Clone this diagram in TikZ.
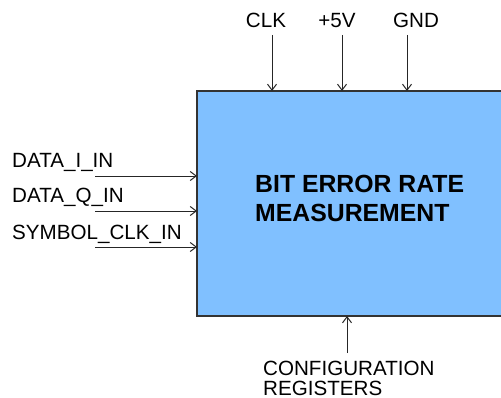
\documentclass[tikz,border=0pt]{standalone}
\usepackage{fontspec}
\setmainfont{Liberation Sans}
\usetikzlibrary{arrows.meta}
\definecolor{boxblue}{HTML}{80C0FF}
\tikzset{
  lbl/.style={inner sep=0pt, font=\fontsize{20.6}{24}\selectfont},
  ttl/.style={inner sep=0pt, font=\fontsize{24.8}{29}\selectfont\bfseries},
  arr/.style={draw=black!85, line width=0.9pt, -{Straight Barb[length=6pt,width=9pt,line width=1pt]}},
}
\begin{document}
\begin{tikzpicture}[x=1pt,y=-1pt]
\useasboundingbox (0,0) rectangle (501,398);
% block (runs past the right edge)
\path[fill=boxblue] (197,91) rectangle (520,316);
\draw[line width=1.4pt, draw=black!80] (520,91) -- (197,91) -- (197,316) -- (520,316);
\coordinate (blk) at (197,91);
% title
\node[ttl, anchor=base west] (t1) at (255,193) {BIT ERROR RATE};
\node[ttl, anchor=base west] (t2) at (255,222) {MEASUREMENT};
% top inputs
\node[lbl, anchor=base] (clk) at (266,28) {CLK};
\node[lbl, anchor=base] (pwr) at (337,28) {+5V};
\node[lbl, anchor=base] (gnd) at (416,28) {GND};
\coordinate (clks) at (272,35); \coordinate (clke) at (272,91);
\coordinate (pwrs) at (342,35); \coordinate (pwre) at (342,91);
\coordinate (gnds) at (407,35); \coordinate (gnde) at (407,91);
\draw[arr] (clks) -- (clke);
\draw[arr] (pwrs) -- (pwre);
\draw[arr] (gnds) -- (gnde);
% left inputs
\node[lbl, anchor=base west] (di) at (12,168) {DATA\_I\_IN};
\node[lbl, anchor=base west] (dq) at (12,203) {DATA\_Q\_IN};
\node[lbl, anchor=base west] (sc) at (12,240) {SYMBOL\_CLK\_IN};
\coordinate (dis) at (95,176); \coordinate (die) at (197,176);
\coordinate (dqs) at (95,211); \coordinate (dqe) at (197,211);
\coordinate (scs) at (95,247); \coordinate (sce) at (197,247);
\draw[arr] (dis) -- (die);
\draw[arr] (dqs) -- (dqe);
\draw[arr] (scs) -- (sce);
% bottom input
\node[lbl, anchor=base west] (cfg1) at (263,375) {CONFIGURATION};
\node[lbl, anchor=base west] (cfg2) at (263,395) {REGISTERS};
\coordinate (cfgs) at (347,353); \coordinate (cfge) at (347,316);
\draw[arr] (cfgs) -- (cfge);
\end{tikzpicture}
\end{document}
